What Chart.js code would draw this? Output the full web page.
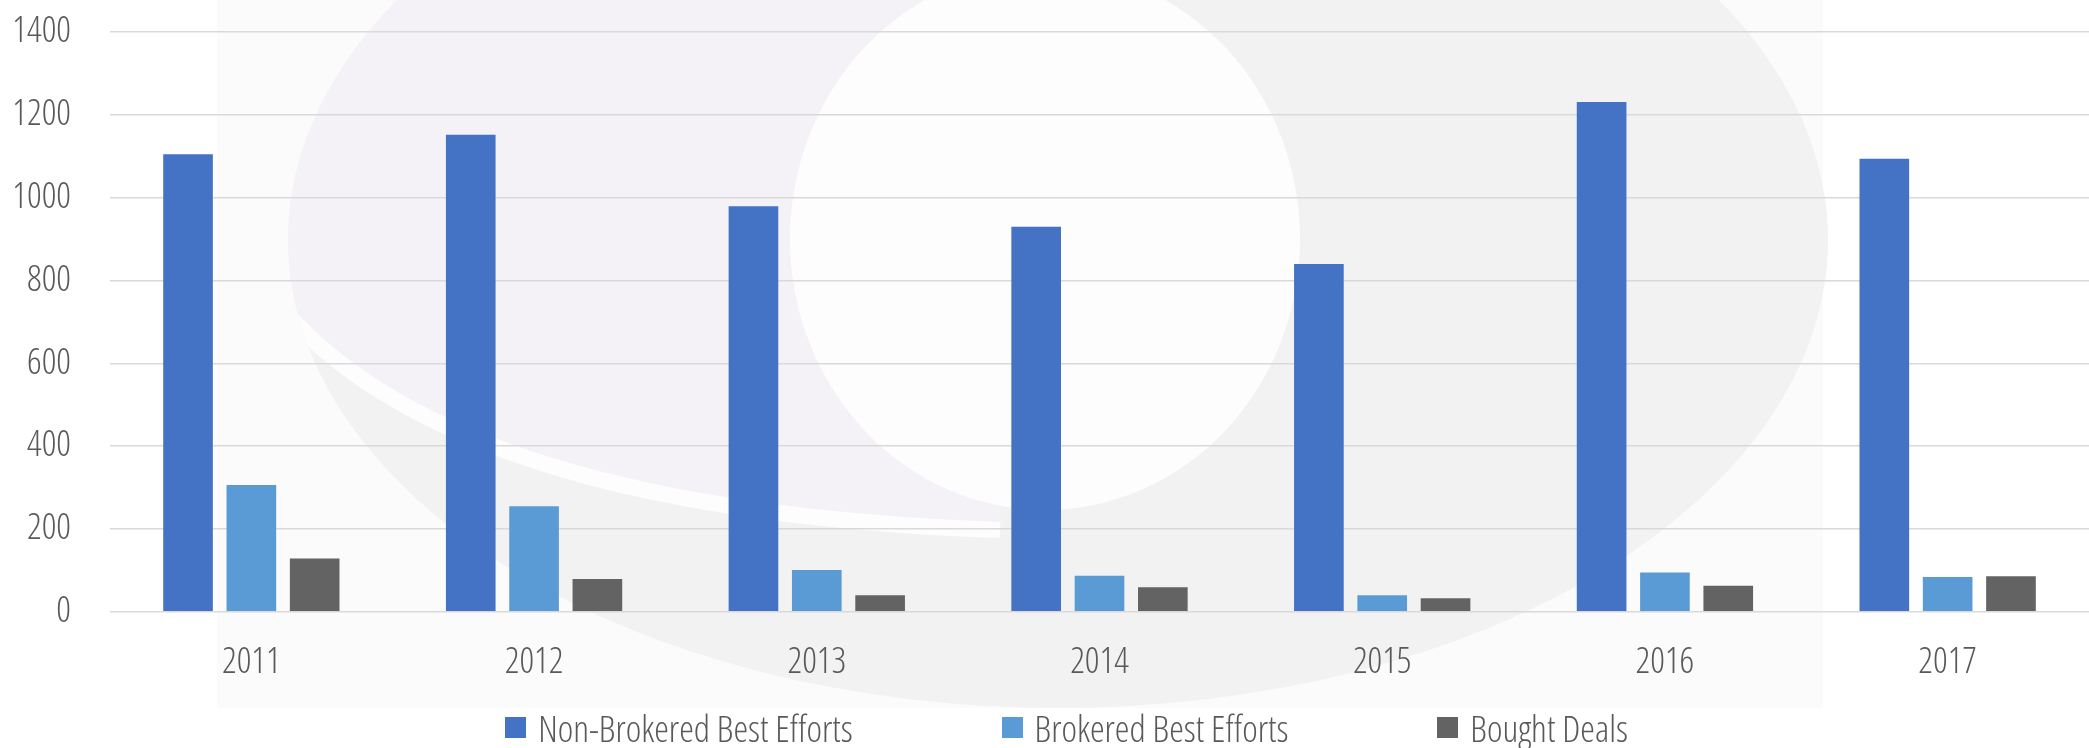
<!DOCTYPE html>
<html>
<head>
<meta charset="utf-8">
<script src="https://cdn.jsdelivr.net/npm/chart.js@4.4.1/dist/chart.umd.min.js"></script>
<style>
    body { margin: 0; background: #ffffff; }
    #wrap { position: relative; width: 2089px; height: 748px; }
    #legend {
        position: absolute; left: 0; top: 706px; width: 2089px; height: 42px;
        display: flex; justify-content: center; align-items: center; gap: 149px;
        padding-left: 44px; box-sizing: border-box;
        font-family: "Open Sans", sans-serif; font-weight: 300; font-stretch: condensed;
        font-size: 37px; color: #595959;
    }
    .item { display: flex; align-items: center; white-space: nowrap; }
    .box { width: 21px; height: 21px; margin-right: 12px; }
</style>
</head>
<body>
<div id="wrap">
    <canvas id="chart"></canvas>
    <div id="legend"></div>
</div>
<script>
// Datos del gráfico
const years = ['2011', '2012', '2013', '2014', '2015', '2016', '2017'];
const nonBrokered = [1105, 1152, 979, 930, 840, 1231, 1094];
const brokered = [306, 255, 101, 87, 40, 95, 84];
const boughtDeals = [129, 79, 40, 59, 33, 63, 86];
const seriesNames = ['Non-Brokered Best Efforts', 'Brokered Best Efforts', 'Bought Deals'];
const seriesColors = ['#4472c4', '#5b9bd5', '#636363'];
const yTicks = [0, 200, 400, 600, 800, 1000, 1200, 1400];

// fuente estrecha y ligera (weight lleva también el "stretch")
const labelFont = { family: '"Open Sans", sans-serif', size: 36, weight: '300 condensed' };

// Marca de agua de fondo (logo difuso)
const watermark = {
    id: 'watermark',
    beforeDraw(chart) {
        const ctx = chart.ctx;
        const sx = chart.width / 2089, sy = chart.height / 748;
        ctx.save();
        ctx.scale(sx, sy);
        ctx.fillStyle = '#fbfbfb';
        ctx.fillRect(217, 0, 1606, 708);

        ctx.beginPath();
        ctx.ellipse(1058, 240, 770, 468, 0, 0, Math.PI * 2);
        ctx.fillStyle = '#f2f2f2';
        ctx.fill();
        ctx.clip();

        // zona lavanda
        ctx.beginPath();
        ctx.moveTo(260, 0);
        ctx.lineTo(260, 280);
        ctx.quadraticCurveTo(420, 510, 1000, 530);
        ctx.lineTo(1000, 0);
        ctx.closePath();
        ctx.fillStyle = '#f4f2f7';
        ctx.fill();

        // franja blanca
        ctx.beginPath();
        ctx.moveTo(260, 280);
        ctx.quadraticCurveTo(420, 510, 1000, 530);
        ctx.strokeStyle = '#fdfdfd';
        ctx.lineWidth = 16;
        ctx.stroke();

        // círculo interior
        ctx.beginPath();
        ctx.ellipse(1045, 239, 255, 271, 0, 0, Math.PI * 2);
        ctx.fillStyle = '#fdfdfd';
        ctx.fill();
        ctx.restore();
    }
};

const datasets = [nonBrokered, brokered, boughtDeals].map((values, i) => ({
    label: seriesNames[i],
    data: values,
    backgroundColor: seriesColors[i],
    borderWidth: 0,
    categoryPercentage: 0.672,
    barPercentage: 0.784
}));

const chart = new Chart(document.getElementById('chart').getContext('2d'), {
    type: 'bar',
    data: { labels: years, datasets: datasets },
    options: {
        responsive: true,
        maintainAspectRatio: false,
        animation: false,
        layout: { padding: { top: 32, right: 0, bottom: 35, left: 0 } },
        plugins: {
            legend: { display: false },
            tooltip: { enabled: false }
        },
        scales: {
            x: {
                grid: { display: false, drawTicks: false },
                border: { display: false },
                ticks: { color: '#595959', font: labelFont, padding: 29 }
            },
            y: {
                min: 0,
                max: 1400,
                afterBuildTicks: (scale) => { scale.ticks = yTicks.map(v => ({ value: v })); },
                afterFit: (scale) => { scale.width = 110; },
                grid: { color: '#d9d9d9', lineWidth: 1.6, tickLength: 36, tickColor: 'rgba(0,0,0,0)' },
                border: { display: false },
                ticks: { color: '#595959', font: labelFont, padding: 3, callback: (v) => String(v) }
            }
        }
    },
    plugins: [watermark]
});

// Leyenda en HTML
const legend = document.getElementById('legend');
datasets.forEach(ds => {
    const item = document.createElement('div');
    item.className = 'item';
    item.innerHTML = `<span class="box" style="background:${ds.backgroundColor}"></span><span>${ds.label}</span>`;
    legend.appendChild(item);
});
</script>
</body>
</html>
